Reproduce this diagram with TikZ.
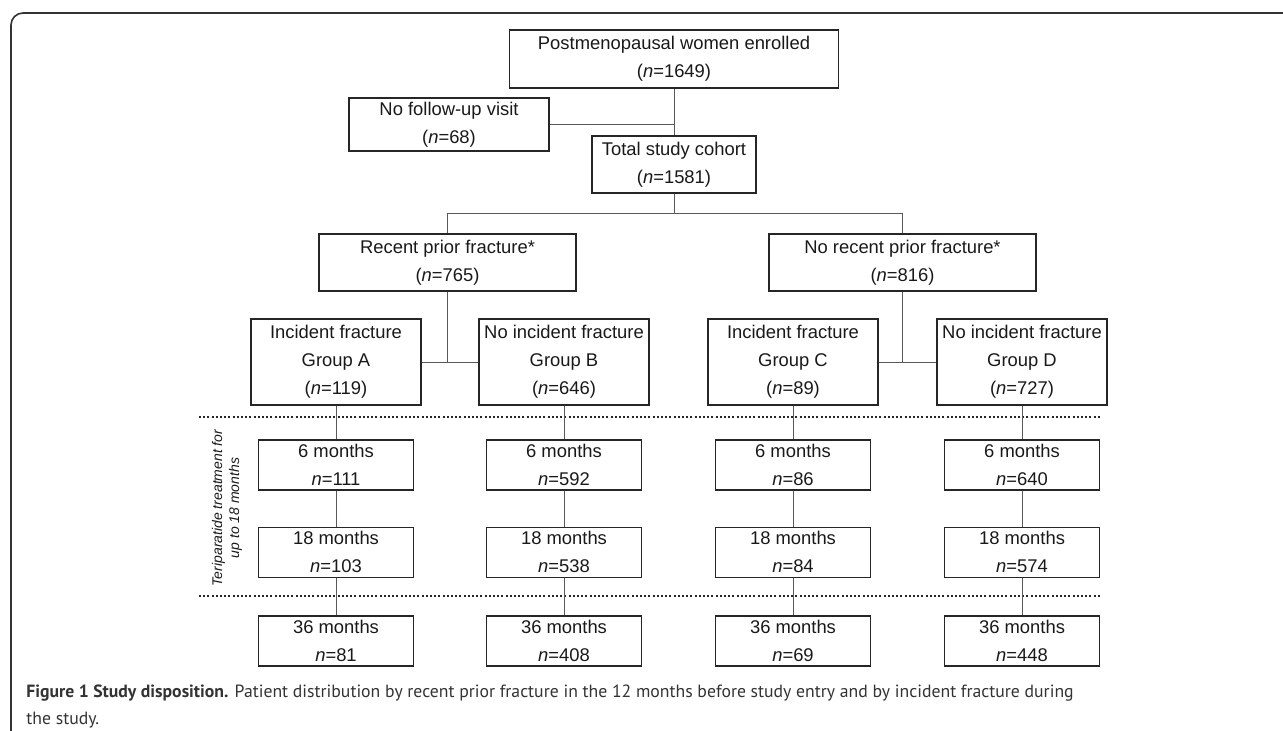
\documentclass[tikz,border=0pt]{standalone}
\usepackage{fontspec}
\setmainfont{Liberation Sans}
\newfontfamily\captionfont{PT Sans}
\usetikzlibrary{positioning}

\begin{document}
\begin{tikzpicture}[
  x = 0.5pt, y = -0.5pt,
  every node/.style = {font=\fontsize{9.2}{14}\selectfont, text=black!90},
  box/.style = {draw=black!85, line width=0.7pt, align=center, inner sep=0pt},
  group-box/.style = {box, minimum width=85pt, minimum height=43pt},
  month-box/.style = {box, minimum width=77.5pt, minimum height=25pt},
  link/.style = {draw=black!65, line width=0.5pt},
  phase-line/.style = {draw=black!85, line width=1.1pt, dash pattern=on 1pt off 1.1pt},
  ]
  \useasboundingbox (0,0) rectangle (1283,730);

  % frame
  \draw[black!80, line width=0.8pt, rounded corners=6pt] (1300,13) -- (11,13) -- (11,745);

  \node[box, minimum width=164.5pt, minimum height=29pt] (enrolled) at (674,59)
    {Postmenopausal women enrolled\\(\textit{n}=1649)};
  \node[box, minimum width=100pt, minimum height=26.5pt] (nofollow) at (449,124.5)
    {No follow-up visit\\(\textit{n}=68)};
  \node[box, minimum width=82pt, minimum height=28.5pt] (cohort) at (674,164.5)
    {Total study cohort\\(\textit{n}=1581)};

  \node[box, minimum width=128.5pt, minimum height=28.5pt] (recent) at (447.5,262.5)
    {Recent prior fracture*\\(\textit{n}=765)};
  \node[box, minimum width=133.5pt, minimum height=28.5pt] (norecent) at (902.5,262.5)
    {No recent prior fracture*\\(\textit{n}=816)};

  \node[group-box] (group-a) at (336,362) {Incident fracture\\Group A\\(\textit{n}=119)};
  \node[group-box] (group-b) at (564,362) {No incident fracture\\Group B\\(\textit{n}=646)};
  \node[group-box] (group-c) at (793,362) {Incident fracture\\Group C\\(\textit{n}=89)};
  \node[group-box] (group-d) at (1022,362) {No incident fracture\\Group D\\(\textit{n}=727)};

  % follow-up visits
  \node[month-box] (a-6) at (336,465) {6 months\\\textit{n}=111};
  \node[month-box, below=18pt of a-6] (a-18) {18 months\\\textit{n}=103};
  \node[month-box, below=18.5pt of a-18] (a-36) {36 months\\\textit{n}=81};

  \node[month-box] (b-6) at (564,465) {6 months\\\textit{n}=592};
  \node[month-box, below=18pt of b-6] (b-18) {18 months\\\textit{n}=538};
  \node[month-box, below=18.5pt of b-18] (b-36) {36 months\\\textit{n}=408};

  \node[month-box] (c-6) at (793,465) {6 months\\\textit{n}=86};
  \node[month-box, below=18pt of c-6] (c-18) {18 months\\\textit{n}=84};
  \node[month-box, below=18.5pt of c-18] (c-36) {36 months\\\textit{n}=69};

  \node[month-box] (d-6) at (1022,465) {6 months\\\textit{n}=640};
  \node[month-box, below=18pt of d-6] (d-18) {18 months\\\textit{n}=574};
  \node[month-box, below=18.5pt of d-18] (d-36) {36 months\\\textit{n}=448};

  \node[rotate=90, align=center, font=\fontsize{7}{8.5}\selectfont\itshape] (treatment)
    at (227,508) {Teriparatide treatment for\\up to 18 months};

  % treatment phase limits
  \coordinate (treat-start-l) at (199,417);
  \coordinate (treat-start-r) at (1100,417);
  \coordinate (treat-end-l) at (199,596);
  \coordinate (treat-end-r) at (1100,596);
  \draw[phase-line] (treat-start-l) -- (treat-start-r);
  \draw[phase-line] (treat-end-l) -- (treat-end-r);

  % connectors
  \coordinate (split) at (674,213);
  \draw[link] (enrolled.south) -- (cohort.north);
  \draw[link] (nofollow.east) -- (nofollow.east -| enrolled.south);
  \draw[link] (cohort.south) -- (split);
  \draw[link] (recent.north) |- (split) -| (norecent.north);
  \draw[link] (recent.south) -- (recent.south |- group-a.east);
  \draw[link] (group-a.east) -- (group-b.west);
  \draw[link] (norecent.south) -- (norecent.south |- group-c.east);
  \draw[link] (group-c.east) -- (group-d.west);

  \draw[link] (group-a) -- (a-6);
  \draw[link] (a-6) -- (a-18);
  \draw[link] (a-18) -- (a-36);
  \draw[link] (group-b) -- (b-6);
  \draw[link] (b-6) -- (b-18);
  \draw[link] (b-18) -- (b-36);
  \draw[link] (group-c) -- (c-6);
  \draw[link] (c-6) -- (c-18);
  \draw[link] (c-18) -- (c-36);
  \draw[link] (group-d) -- (d-6);
  \draw[link] (d-6) -- (d-18);
  \draw[link] (d-18) -- (d-36);

  \node[anchor=north west, align=left, inner sep=0pt, text=black!80,
    font=\captionfont\fontsize{8.85}{13.5}\selectfont] (caption) at (26,684)
    {\textbf{Figure 1 Study disposition.} Patient distribution by recent prior fracture in the 12 months before study entry and by incident fracture during\\the study.};
\end{tikzpicture}
\end{document}
